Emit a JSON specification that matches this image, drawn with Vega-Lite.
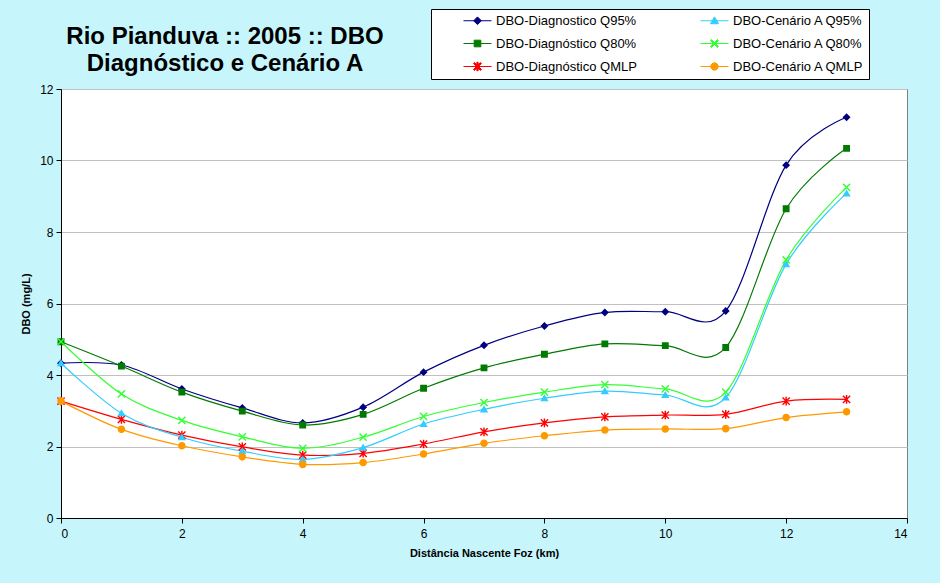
{
  "$schema": "https://vega.github.io/schema/vega-lite/v6.json",
  "width": 846,
  "height": 429,
  "autosize": {"type": "none"},
  "padding": {"left": 61, "top": 89, "right": 33, "bottom": 65},
  "background": "#C6F6FC",
  "title": {
    "text": ["Rio Pianduva :: 2005 :: DBO", "Diagnóstico e Cenário A"],
    "font": "Liberation Sans",
    "fontSize": 24,
    "fontWeight": "bold",
    "color": "black",
    "frame": "group",
    "anchor": "start",
    "align": "center",
    "dx": 164,
    "dy": 81,
    "lineHeight": 27,
    "offset": 14
  },
  "data": {
    "values": [
      {"km": 0, "serie": "DBO-Diagnostico Q95%", "dbo": 4.33},
      {"km": 1, "serie": "DBO-Diagnostico Q95%", "dbo": 4.28},
      {"km": 2, "serie": "DBO-Diagnostico Q95%", "dbo": 3.61},
      {"km": 3, "serie": "DBO-Diagnostico Q95%", "dbo": 3.08},
      {"km": 4, "serie": "DBO-Diagnostico Q95%", "dbo": 2.66},
      {"km": 5, "serie": "DBO-Diagnostico Q95%", "dbo": 3.10},
      {"km": 6, "serie": "DBO-Diagnostico Q95%", "dbo": 4.08},
      {"km": 7, "serie": "DBO-Diagnostico Q95%", "dbo": 4.83},
      {"km": 8, "serie": "DBO-Diagnostico Q95%", "dbo": 5.37},
      {"km": 9, "serie": "DBO-Diagnostico Q95%", "dbo": 5.75},
      {"km": 10, "serie": "DBO-Diagnostico Q95%", "dbo": 5.77},
      {"km": 11, "serie": "DBO-Diagnostico Q95%", "dbo": 5.79},
      {"km": 12, "serie": "DBO-Diagnostico Q95%", "dbo": 9.87},
      {"km": 13, "serie": "DBO-Diagnostico Q95%", "dbo": 11.21},
      {"km": 0, "serie": "DBO-Diagnóstico Q80%", "dbo": 4.93},
      {"km": 1, "serie": "DBO-Diagnóstico Q80%", "dbo": 4.25},
      {"km": 2, "serie": "DBO-Diagnóstico Q80%", "dbo": 3.52},
      {"km": 3, "serie": "DBO-Diagnóstico Q80%", "dbo": 2.99},
      {"km": 4, "serie": "DBO-Diagnóstico Q80%", "dbo": 2.60},
      {"km": 5, "serie": "DBO-Diagnóstico Q80%", "dbo": 2.90},
      {"km": 6, "serie": "DBO-Diagnóstico Q80%", "dbo": 3.63},
      {"km": 7, "serie": "DBO-Diagnóstico Q80%", "dbo": 4.20},
      {"km": 8, "serie": "DBO-Diagnóstico Q80%", "dbo": 4.58},
      {"km": 9, "serie": "DBO-Diagnóstico Q80%", "dbo": 4.87},
      {"km": 10, "serie": "DBO-Diagnóstico Q80%", "dbo": 4.82},
      {"km": 11, "serie": "DBO-Diagnóstico Q80%", "dbo": 4.77},
      {"km": 12, "serie": "DBO-Diagnóstico Q80%", "dbo": 8.65},
      {"km": 13, "serie": "DBO-Diagnóstico Q80%", "dbo": 10.34},
      {"km": 0, "serie": "DBO-Diagnóstico QMLP", "dbo": 3.27},
      {"km": 1, "serie": "DBO-Diagnóstico QMLP", "dbo": 2.76},
      {"km": 2, "serie": "DBO-Diagnóstico QMLP", "dbo": 2.32},
      {"km": 3, "serie": "DBO-Diagnóstico QMLP", "dbo": 1.99},
      {"km": 4, "serie": "DBO-Diagnóstico QMLP", "dbo": 1.76},
      {"km": 5, "serie": "DBO-Diagnóstico QMLP", "dbo": 1.81},
      {"km": 6, "serie": "DBO-Diagnóstico QMLP", "dbo": 2.07},
      {"km": 7, "serie": "DBO-Diagnóstico QMLP", "dbo": 2.41},
      {"km": 8, "serie": "DBO-Diagnóstico QMLP", "dbo": 2.66},
      {"km": 9, "serie": "DBO-Diagnóstico QMLP", "dbo": 2.83},
      {"km": 10, "serie": "DBO-Diagnóstico QMLP", "dbo": 2.88},
      {"km": 11, "serie": "DBO-Diagnóstico QMLP", "dbo": 2.90},
      {"km": 12, "serie": "DBO-Diagnóstico QMLP", "dbo": 3.27},
      {"km": 13, "serie": "DBO-Diagnóstico QMLP", "dbo": 3.32},
      {"km": 0, "serie": "DBO-Cenário A Q95%", "dbo": 4.33},
      {"km": 1, "serie": "DBO-Cenário A Q95%", "dbo": 2.93},
      {"km": 2, "serie": "DBO-Cenário A Q95%", "dbo": 2.26},
      {"km": 3, "serie": "DBO-Cenário A Q95%", "dbo": 1.87},
      {"km": 4, "serie": "DBO-Cenário A Q95%", "dbo": 1.64},
      {"km": 5, "serie": "DBO-Cenário A Q95%", "dbo": 1.97},
      {"km": 6, "serie": "DBO-Cenário A Q95%", "dbo": 2.63},
      {"km": 7, "serie": "DBO-Cenário A Q95%", "dbo": 3.04},
      {"km": 8, "serie": "DBO-Cenário A Q95%", "dbo": 3.35},
      {"km": 9, "serie": "DBO-Cenário A Q95%", "dbo": 3.55},
      {"km": 10, "serie": "DBO-Cenário A Q95%", "dbo": 3.44},
      {"km": 11, "serie": "DBO-Cenário A Q95%", "dbo": 3.37},
      {"km": 12, "serie": "DBO-Cenário A Q95%", "dbo": 7.10},
      {"km": 13, "serie": "DBO-Cenário A Q95%", "dbo": 9.08},
      {"km": 0, "serie": "DBO-Cenário A Q80%", "dbo": 4.93},
      {"km": 1, "serie": "DBO-Cenário A Q80%", "dbo": 3.47},
      {"km": 2, "serie": "DBO-Cenário A Q80%", "dbo": 2.73},
      {"km": 3, "serie": "DBO-Cenário A Q80%", "dbo": 2.27},
      {"km": 4, "serie": "DBO-Cenário A Q80%", "dbo": 1.95},
      {"km": 5, "serie": "DBO-Cenário A Q80%", "dbo": 2.26},
      {"km": 6, "serie": "DBO-Cenário A Q80%", "dbo": 2.84},
      {"km": 7, "serie": "DBO-Cenário A Q80%", "dbo": 3.23},
      {"km": 8, "serie": "DBO-Cenário A Q80%", "dbo": 3.52},
      {"km": 9, "serie": "DBO-Cenário A Q80%", "dbo": 3.73},
      {"km": 10, "serie": "DBO-Cenário A Q80%", "dbo": 3.61},
      {"km": 11, "serie": "DBO-Cenário A Q80%", "dbo": 3.52},
      {"km": 12, "serie": "DBO-Cenário A Q80%", "dbo": 7.22},
      {"km": 13, "serie": "DBO-Cenário A Q80%", "dbo": 9.25},
      {"km": 0, "serie": "DBO-Cenário A QMLP", "dbo": 3.27},
      {"km": 1, "serie": "DBO-Cenário A QMLP", "dbo": 2.48},
      {"km": 2, "serie": "DBO-Cenário A QMLP", "dbo": 2.02},
      {"km": 3, "serie": "DBO-Cenário A QMLP", "dbo": 1.71},
      {"km": 4, "serie": "DBO-Cenário A QMLP", "dbo": 1.50},
      {"km": 5, "serie": "DBO-Cenário A QMLP", "dbo": 1.55},
      {"km": 6, "serie": "DBO-Cenário A QMLP", "dbo": 1.79},
      {"km": 7, "serie": "DBO-Cenário A QMLP", "dbo": 2.09},
      {"km": 8, "serie": "DBO-Cenário A QMLP", "dbo": 2.30},
      {"km": 9, "serie": "DBO-Cenário A QMLP", "dbo": 2.46},
      {"km": 10, "serie": "DBO-Cenário A QMLP", "dbo": 2.49},
      {"km": 11, "serie": "DBO-Cenário A QMLP", "dbo": 2.50},
      {"km": 12, "serie": "DBO-Cenário A QMLP", "dbo": 2.81},
      {"km": 13, "serie": "DBO-Cenário A QMLP", "dbo": 2.97}
    ]
  },
  "encoding": {
    "x": {
      "field": "km",
      "type": "quantitative",
      "scale": {"domain": [0, 14], "nice": false},
      "axis": {
        "title": "Distância Nascente Foz (km)",
        "values": [0, 2, 4, 6, 8, 10, 12, 14],
        "grid": false,
        "labelPadding": 5,
        "titlePadding": 8
      }
    },
    "y": {
      "field": "dbo",
      "type": "quantitative",
      "scale": {"domain": [0, 12], "nice": false},
      "axis": {
        "title": "DBO (mg/L)",
        "values": [0, 2, 4, 6, 8, 10, 12],
        "grid": true,
        "labelPadding": 3,
        "titlePadding": 8
      }
    },
    "color": {
      "field": "serie",
      "type": "nominal",
      "sort": null,
      "scale": {
        "domain": ["DBO-Diagnostico Q95%", "DBO-Diagnóstico Q80%", "DBO-Diagnóstico QMLP", "DBO-Cenário A Q95%", "DBO-Cenário A Q80%", "DBO-Cenário A QMLP"],
        "range": ["#000080", "#007A00", "#FF0000", "#33CCFF", "#33FF33", "#FF9900"]
      },
      "legend": {
        "title": null,
        "orient": "none",
        "legendX": 370,
        "legendY": -80,
        "columns": 2,
        "padding": 5,
        "rowPadding": 9,
        "columnPadding": 36,
        "symbolOffset": 35,
        "labelOffset": 12,
        "symbolSize": 49,
        "symbolStrokeWidth": 1,
        "symbolStrokeColor": {"expr": "scale('color', datum.value)"},
        "labelFont": "Liberation Sans",
        "labelFontSize": 13,
        "labelColor": "black",
        "labelLimit": 300,
        "strokeColor": "black",
        "fillColor": "white"
      }
    }
  },
  "layer": [
    {
      "mark": {"type": "line", "interpolate": "cardinal", "strokeWidth": 1.2}
    },
    {
      "mark": {"type": "point", "filled": true, "size": 52, "opacity": 1},
      "encoding": {
        "shape": {
          "field": "serie",
          "type": "nominal",
          "sort": null,
          "scale": {
            "domain": ["DBO-Diagnostico Q95%", "DBO-Diagnóstico Q80%", "DBO-Diagnóstico QMLP", "DBO-Cenário A Q95%", "DBO-Cenário A Q80%", "DBO-Cenário A QMLP"],
            "range": [
              "M-4,0L4,0M-1.1,0L0,-1.1L1.1,0L0,1.1Z",
              "M-4,0L4,0M-0.95,-0.95L0.95,-0.95L0.95,0.95L-0.95,0.95Z",
              "M-4,0L4,0M-1.14,-0.86L0.86,1.14L1.14,0.86L-0.86,-1.14ZM-0.86,1.14L1.14,-0.86L0.86,-1.14L-1.14,0.86ZM-0.2,-1.2L-0.2,1.2L0.2,1.2L0.2,-1.2Z",
              "M-4,0L4,0M0,-1.1L1.15,0.85L-1.15,0.85Z",
              "M-4,0L4,0M-1.14,-0.86L0.86,1.14L1.14,0.86L-0.86,-1.14ZM-0.86,1.14L1.14,-0.86L0.86,-1.14L-1.14,0.86Z",
              "M-4,0L4,0M1.05,0A1.05,1.05,0,1,1,-1.05,0A1.05,1.05,0,1,1,1.05,0Z"
            ]
          }
        }
      }
    }
  ],
  "config": {
    "font": "Liberation Sans",
    "view": {"stroke": "#808080", "strokeWidth": 1, "fill": "white"},
    "axis": {
      "labelFont": "Liberation Sans",
      "labelFontSize": 12,
      "labelColor": "black",
      "titleFont": "Liberation Sans",
      "titleFontSize": 11,
      "titleFontWeight": "bold",
      "titleColor": "black",
      "domainColor": "black",
      "domainWidth": 1,
      "tickColor": "black",
      "tickSize": 5,
      "gridColor": "#C0C0C0",
      "gridWidth": 1
    }
  }
}
